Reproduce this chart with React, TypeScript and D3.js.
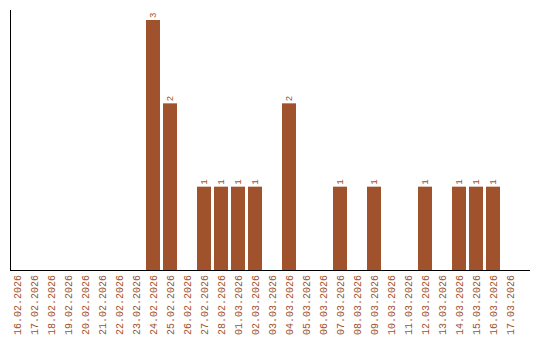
import React from "react";
import * as d3 from "d3";

const categories: string[] = [
  "16.02.2026", "17.02.2026", "18.02.2026", "19.02.2026", "20.02.2026",
  "21.02.2026", "22.02.2026", "23.02.2026", "24.02.2026", "25.02.2026",
  "26.02.2026", "27.02.2026", "28.02.2026", "01.03.2026", "02.03.2026",
  "03.03.2026", "04.03.2026", "05.03.2026", "06.03.2026", "07.03.2026",
  "08.03.2026", "09.03.2026", "10.03.2026", "11.03.2026", "12.03.2026",
  "13.03.2026", "14.03.2026", "15.03.2026", "16.03.2026", "17.03.2026",
];
const values: number[] = [
  0, 0, 0, 0, 0, 0, 0, 0, 3, 2,
  0, 1, 1, 1, 1, 0, 2, 0, 0, 1,
  0, 1, 0, 0, 1, 0, 1, 1, 1, 0,
];

const W = 540;
const H = 340;
const COLOR = "#a0522d";
const FONT = "'Liberation Mono', 'Courier New', monospace";

export default function App() {
  const x = d3
    .scaleBand<string>()
    .domain(categories)
    .range([10, 517])
    .paddingInner(3 / 17)
    .paddingOuter(0);
  const y = d3.scaleLinear().domain([0, 3]).range([270, 20]);

  return (
    <svg
      width={W}
      height={H}
      style={{ position: "absolute", left: 0, top: 0 }}
    >
      <rect width={W} height={H} fill="#fff" />
      {categories.map((c, i) =>
        values[i] > 0 ? (
          <g key={c}>
            <rect
              x={x(c)!}
              y={y(values[i])}
              width={x.bandwidth()}
              height={y(0) - y(values[i])}
              fill={COLOR}
            />
            <text
              transform={`translate(${x(c)! + x.bandwidth() / 2 + 3.2},${y(values[i]) - 2}) rotate(-90)`}
              fontFamily={FONT}
              fontSize={9}
              fill={COLOR}
              textAnchor="start"
            >
              {values[i]}
            </text>
          </g>
        ) : null
      )}
      <line x1={10.5} x2={10.5} y1={10} y2={270} stroke="#000" strokeWidth={1} />
      <line x1={10} x2={530} y1={270.5} y2={270.5} stroke="#000" strokeWidth={1} />
      {categories.map((c) => (
        <text
          key={"l" + c}
          transform={`translate(${x(c)! + x.bandwidth() / 2 + 3.5},275) rotate(-90)`}
          fontFamily={FONT}
          fontSize={10}
          fill={COLOR}
          textAnchor="end"
        >
          {c}
        </text>
      ))}
    </svg>
  );
}
